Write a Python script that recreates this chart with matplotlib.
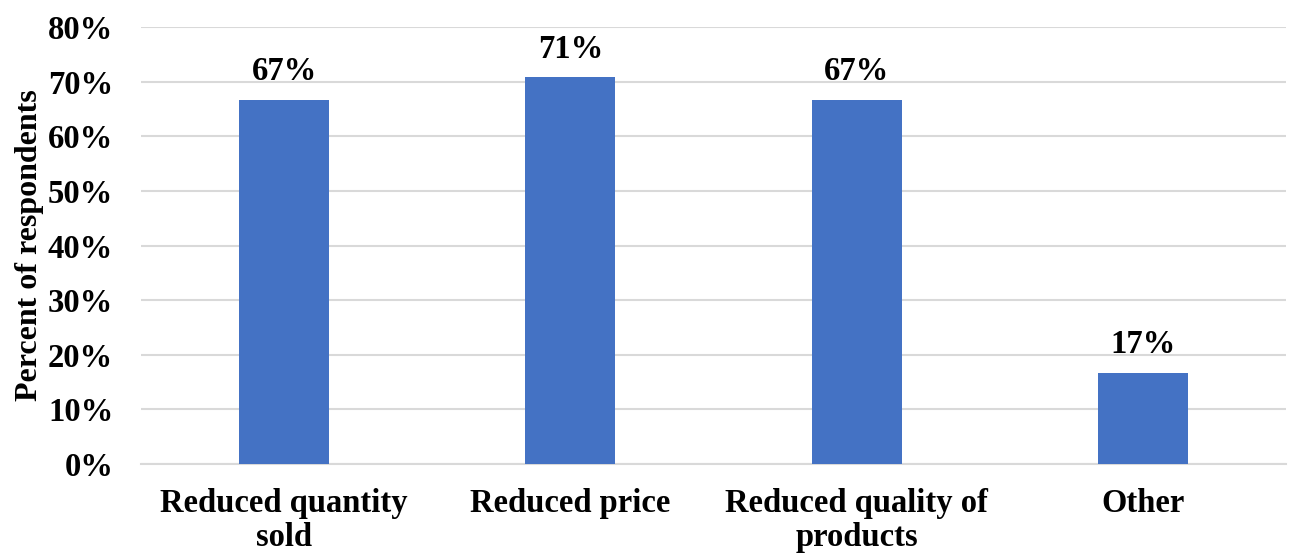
import matplotlib
matplotlib.use("Agg")
import matplotlib.pyplot as plt
from matplotlib.ticker import FuncFormatter

categories = ["Reduced quantity\nsold", "Reduced price", "Reduced quality of\nproducts", "Other"]
values = [66.7, 70.8, 66.7, 16.7]
labels = ["67%", "71%", "67%", "17%"]
yticks = [0, 10, 20, 30, 40, 50, 60, 70, 80]

plt.rcParams['font.family'] = ['Liberation Serif', 'DejaVu Serif']
plt.rcParams['font.weight'] = 'bold'

fig = plt.figure(figsize=(12.89, 5.54), dpi=100)
ax = fig.add_axes([141/1289, 1 - 464/554, (1286-141)/1289, (464-27)/554])

x = list(range(len(categories)))
bars = ax.bar(x, values, width=0.315, color="#4472C4", zorder=3)
for xi, v, lab in zip(x, values, labels):
    ax.annotate(lab, (xi, v), xytext=(0, 9), textcoords="offset points",
                ha="center", va="bottom", fontsize=23.5, fontweight="bold")

ax.set_xlim(-0.5, 3.5)
ax.set_ylim(0, 80)
ax.set_yticks(yticks)
ax.yaxis.set_major_formatter(FuncFormatter(lambda v, p: f"{int(v)}%"))
ax.set_xticks(x)
ax.set_xticklabels(categories, fontsize=23.5, fontweight="bold", linespacing=1.15)
ax.tick_params(axis="y", labelsize=23.5, length=0, pad=20)
ax.tick_params(axis="x", length=0, pad=17)
for t in ax.get_yticklabels():
    t.set_fontweight("bold")

ax.grid(axis="y", color="#D9D9D9", linewidth=1.5, zorder=0)
for s in ["top", "right", "left"]:
    ax.spines[s].set_visible(False)
ax.spines["bottom"].set_color("#D9D9D9")
ax.spines["bottom"].set_linewidth(1.5)

ax.set_ylabel("Percent of respondents", fontsize=23, fontweight="bold")
ax.yaxis.set_label_coords((44 - 141) / 1145, 0.5)

fig.savefig("out.png", dpi=100)
